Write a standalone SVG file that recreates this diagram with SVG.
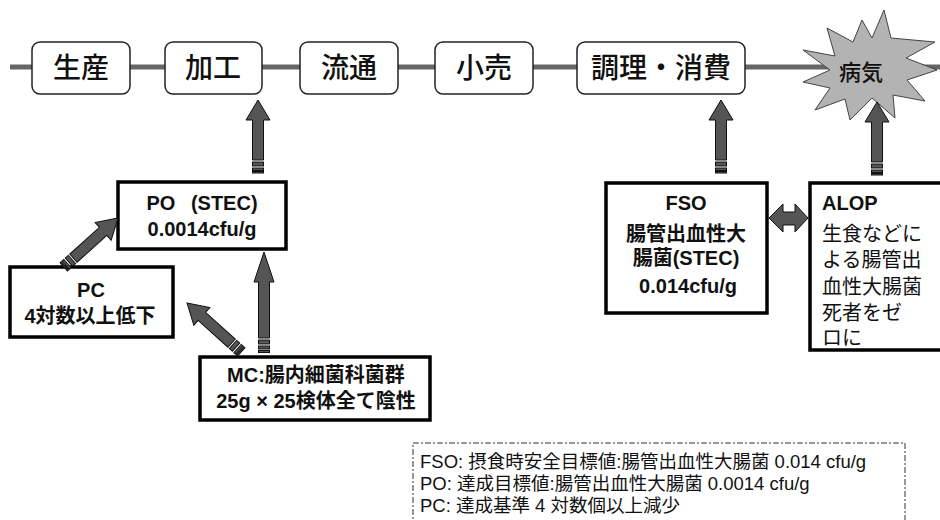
<svg xmlns="http://www.w3.org/2000/svg" xmlns:xlink="http://www.w3.org/1999/xlink" width="940" height="520" viewBox="0 0 940 520">
<style>
.stage{fill:#fff;stroke:#222;stroke-width:1.5}
.stxt{font-family:"Noto Sans CJK JP","Noto Sans",sans-serif;font-size:28px;font-weight:500;fill:#111;text-anchor:middle}
.box{fill:#fff;stroke:#000;stroke-width:3.5}
.bt{font-family:"Liberation Sans","Noto Sans CJK JP",sans-serif;font-weight:bold;font-size:20px;fill:#111;text-anchor:middle}
.rt{font-family:"Liberation Sans","Noto Sans CJK JP",sans-serif;font-size:20px;fill:#111}
.arr{fill:#555;stroke:#111;stroke-width:1}
.leg{font-family:"Liberation Sans","Noto Sans CJK JP",sans-serif;font-size:18.5px;fill:#111}
</style>
<defs>
<g id="uparrow">
<path class="arr" d="M0,0 L12,20 L5.5,20 L5.5,60 L-5.5,60 L-5.5,20 L-12,20 Z"/>
<rect class="arr" x="-5.5" y="62" width="11" height="4"/>
<rect class="arr" x="-5.5" y="68" width="11" height="2.5"/>
<rect class="arr" x="-5.5" y="71.5" width="11" height="1.5" stroke-width="0.5"/>
</g>
</defs>
<g id="timeline">
<line x1="10" y1="67" x2="940" y2="67" stroke="#666" stroke-width="5"/>
</g>
<g id="n-seisan"><rect class="stage" x="32" y="42" width="98" height="52" rx="8"/><text class="stxt" x="81" y="78">生産</text></g>
<g id="n-kakou"><rect class="stage" x="165" y="42" width="97" height="52" rx="8"/><text class="stxt" x="213" y="78">加工</text></g>
<g id="n-ryutsu"><rect class="stage" x="300" y="42" width="98" height="52" rx="8"/><text class="stxt" x="349" y="78">流通</text></g>
<g id="n-kouri"><rect class="stage" x="435" y="42" width="98" height="52" rx="8"/><text class="stxt" x="484" y="78">小売</text></g>
<g id="n-chouri"><rect class="stage" x="577" y="42" width="168" height="52" rx="8"/><text class="stxt" x="661" y="78">調理・消費</text></g>
<g id="n-byouki">
<polygon points="803,50 835,56 827,28 853,42 862,20 872,38 884,10 891,38 935,42 906,58 937,70 907,80 925,101 893,95 895,118 872,98 850,120 845,99 815,110 830,88 803,82 830,70" fill="#b3b3b3" stroke="#444" stroke-width="1"/>
<text x="861" y="80" font-family="'Noto Sans CJK JP',sans-serif" font-size="22" font-weight="500" fill="#111" text-anchor="middle">病気</text>
</g>
<g id="n-po"><rect class="box" x="118" y="182" width="168" height="67"/><text class="bt" x="202" y="210">PO&#8194; (STEC)</text><text class="bt" x="202" y="236">0.0014cfu/g</text></g>
<g id="n-pc"><rect class="box" x="10" y="267" width="163" height="70"/><text class="bt" x="91" y="297">PC</text><text class="bt" x="90" y="323">4対数以上低下</text></g>
<g id="n-mc"><rect class="box" x="200" y="357" width="230" height="63"/><text class="bt" x="316" y="382">MC:腸内細菌科菌群</text><text class="bt" x="316" y="408">25g × 25検体全て陰性</text></g>
<g id="n-fso"><rect class="box" x="606" y="183" width="161" height="130"/><text class="bt" x="686" y="210">FSO</text><text class="bt" x="686" y="241">腸管出血性大</text><text class="bt" x="686" y="265">腸菌(STEC)</text><text class="bt" x="688" y="293">0.014cfu/g</text></g>
<g id="n-alop"><rect class="box" x="810" y="183" width="140" height="167"/>
<text class="rt" x="822" y="210" font-weight="bold">ALOP</text>
<text class="rt" x="822" y="241">生食などに</text>
<text class="rt" x="822" y="267">よる腸管出</text>
<text class="rt" x="822" y="294">血性大腸菌</text>
<text class="rt" x="822" y="320">死者をゼ</text>
<text class="rt" x="822" y="345">ロに</text>
</g>
<g id="connectors">
<use xlink:href="#uparrow" transform="translate(258,100)"/>
<use xlink:href="#uparrow" transform="translate(721,100)"/>
<use xlink:href="#uparrow" transform="translate(877,102)"/>
<use xlink:href="#uparrow" transform="translate(118,218) rotate(48)"/>
<use xlink:href="#uparrow" transform="translate(187,303) rotate(-48)"/>
<g>
<path class="arr" d="M264,252 L274,282 L269.5,282 L269.5,338 L258.5,338 L258.5,282 L254,282 Z"/>
<rect class="arr" x="258.5" y="340" width="11" height="4"/>
<rect class="arr" x="258.5" y="346" width="11" height="3"/>
<rect class="arr" x="258.5" y="350.5" width="11" height="2"/>
</g>
<path class="arr" d="M769,218 L783,204 L783,212 L795,212 L795,204 L808,218 L795,232 L795,225 L783,225 L783,232 Z"/>
</g>
<g id="legend">
<rect x="413" y="443" width="492" height="90" fill="none" stroke="#333" stroke-width="1" stroke-dasharray="6,2,2,2"/>
<text class="leg" x="420" y="468">FSO: 摂食時安全目標値:腸管出血性大腸菌 0.014 cfu/g</text>
<text class="leg" x="420" y="490">PO: 達成目標値:腸管出血性大腸菌 0.0014 cfu/g</text>
<text class="leg" x="420" y="512">PC: 達成基準 4 対数個以上減少</text>
</g>
</svg>
